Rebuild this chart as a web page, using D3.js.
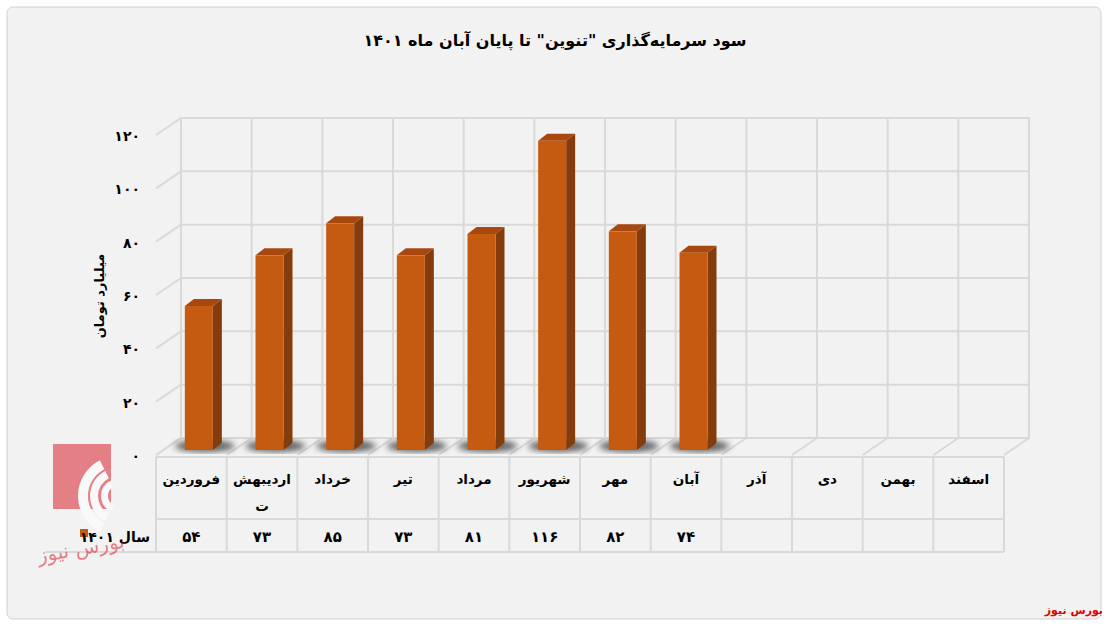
<!DOCTYPE html>
<html><head><meta charset="utf-8">
<script src="https://cdn.jsdelivr.net/npm/d3@7"></script>
<style>body{margin:0;background:#fff;font-family:"DejaVu Sans",sans-serif}</style>
</head><body><svg></svg>
<script>
let months = ["فروردین", "اردیبهشت", "خرداد", "تیر", "مرداد", "شهریور", "مهر", "آبان", "آذر", "دی", "بهمن", "اسفند"];
let monthLines = [["فروردین"], ["اردیبهش", "ت"], ["خرداد"], ["تیر"], ["مرداد"], ["شهریور"], ["مهر"], ["آبان"], ["آذر"], ["دی"], ["بهمن"], ["اسفند"]];
let values = [54, 73, 85, 73, 81, 116, 82, 74];
let valueLabels = ["۵۴", "۷۳", "۸۵", "۷۳", "۸۱", "۱۱۶", "۸۲", "۷۴"];
let yTicks = [0, 20, 40, 60, 80, 100, 120];
let yTickLabels = ["۰", "۲۰", "۴۰", "۶۰", "۸۰", "۱۰۰", "۱۲۰"];
let seriesName = "سال ۱۴۰۱";
let title = "سود سرمایه‌گذاری \"تنوین\" تا پایان آبان ماه ۱۴۰۱";

let width = 1109, height = 627;
let dx = 25, dy = -17;
let svg = d3.select("svg").attr("width", width).attr("height", height);

let x = d3.scaleBand().domain(months).range([156, 1004]).padding(0);
let y = d3.scaleLinear().domain([0, 120]).range([455, 135]);

svg.append("rect").attr("x", 7).attr("y", 7).attr("width", 1094).attr("height", 612)
  .attr("rx", 6).attr("fill", "#f2f2f2").attr("stroke", "#d0d0d0");

svg.append("text").attr("x", 555).attr("y", 46).attr("text-anchor", "middle")
  .attr("font-weight", "bold").attr("font-size", 16).text(title);

let grid = "#d9d9d9";
let g = svg.append("g");
// back wall
g.append("rect").attr("x", 156 + dx).attr("y", y(120) + dy).attr("width", 848).attr("height", 320)
  .attr("fill", "#f2f2f2").attr("stroke", grid).attr("stroke-width", 2);
yTicks.forEach((t) => {
  g.append("line").attr("x1", 156 + dx).attr("x2", 1004 + dx).attr("y1", y(t) + dy).attr("y2", y(t) + dy)
    .attr("stroke", grid).attr("stroke-width", 2);
  g.append("line").attr("x1", 156).attr("x2", 156 + dx).attr("y1", y(t)).attr("y2", y(t) + dy)
    .attr("stroke", grid).attr("stroke-width", 2);
});
months.forEach((m) => {
  g.append("line").attr("x1", x(m) + dx).attr("x2", x(m) + dx).attr("y1", y(120) + dy).attr("y2", y(0) + dy)
    .attr("stroke", grid).attr("stroke-width", 2);
  g.append("line").attr("x1", x(m) + x.bandwidth()).attr("x2", x(m) + x.bandwidth() + dx)
    .attr("y1", y(0)).attr("y2", y(0) + dy).attr("stroke", grid).attr("stroke-width", 2);
});
g.append("line").attr("x1", 156).attr("x2", 156 + dx).attr("y1", y(0)).attr("y2", y(0) + dy).attr("stroke", grid).attr("stroke-width", 2);
g.append("line").attr("x1", 1004 + dx).attr("x2", 1004 + dx).attr("y1", y(120) + dy).attr("y2", y(0) + dy).attr("stroke", grid).attr("stroke-width", 2);

// y labels
svg.append("g").selectAll("text").data(yTicks).enter().append("text")
  .attr("x", 140).attr("y", (d) => y(d) + 6).attr("text-anchor", "end")
  .attr("font-weight", "bold").attr("font-size", 14)
  .text((d, i) => yTickLabels[i]);
svg.append("text").attr("transform", "translate(104,296) rotate(-90)").attr("text-anchor", "middle")
  .attr("font-weight", "bold").attr("font-size", 13).text("میلیارد تومان");

// shadows
let defs = svg.append("defs");
defs.append("filter").attr("id", "blur").append("feGaussianBlur").attr("stdDeviation", 3);
let bw = 28, bd = 9, bdy = -7, off = 0.3;
let bars = svg.append("g");
values.forEach((v, i) => {
  let m = months[i];
  let cx = x(m) + x.bandwidth() / 2 + off * dx;
  let y0 = y(0) - 5;
  let yt = y0 - (y(0) - y(v));
  bars.append("ellipse").attr("cx", cx + 6).attr("cy", y0 - 4).attr("rx", 30).attr("ry", 6)
    .attr("fill", "#333").attr("opacity", 0.75).attr("filter", "url(#blur)");
  let l = cx - bw / 2, r = cx + bw / 2;
  bars.append("polygon").attr("points", `${r},${yt} ${r + bd},${yt + bdy} ${r + bd},${y0 + bdy} ${r},${y0}`).attr("fill", "#843C0C");
  bars.append("polygon").attr("points", `${l},${yt} ${l + bd},${yt + bdy} ${r + bd},${yt + bdy} ${r},${yt}`).attr("fill", "#A8480E");
  bars.append("rect").attr("x", l).attr("y", yt).attr("width", bw).attr("height", y0 - yt).attr("fill", "#C55A11");
});

// data table
let t = svg.append("g");
let r0 = 457, r1 = 519, r2 = 552;
t.append("line").attr("x1", 156).attr("x2", 1004).attr("y1", r1).attr("y2", r1).attr("stroke", grid).attr("stroke-width", 2);
t.append("line").attr("x1", 156).attr("x2", 1004).attr("y1", r0).attr("y2", r0).attr("stroke", grid).attr("stroke-width", 2);
t.append("line").attr("x1", 45).attr("x2", 1004).attr("y1", r2).attr("y2", r2).attr("stroke", grid).attr("stroke-width", 2);
months.concat(["end"]).forEach((m, i) => {
  let xx = i < 12 ? x(m) : 1004;
  t.append("line").attr("x1", xx).attr("x2", xx).attr("y1", r0).attr("y2", r2).attr("stroke", grid).attr("stroke-width", 2);
});
monthLines.forEach((lines, i) => {
  lines.forEach((s, j) => {
    t.append("text").attr("x", x(months[i]) + x.bandwidth() / 2).attr("y", 484 + j * 27)
      .attr("text-anchor", "middle").attr("font-weight", "bold").attr("font-size", 13.5).text(s);
  });
});
valueLabels.forEach((s, i) => {
  t.append("text").attr("x", x(months[i]) + x.bandwidth() / 2).attr("y", 542)
    .attr("text-anchor", "middle").attr("font-weight", "bold").attr("font-size", 15).text(s);
});

// watermark
let wm = svg.append("g").attr("opacity", 0.55);
wm.append("rect").attr("x", 53).attr("y", 444).attr("width", 58).attr("height", 65).attr("fill", "#d9232d");
[[40, 30], [28, 20], [17, 10]].forEach((rr) => {
  wm.append("path").attr("d", d3.arc()({ innerRadius: rr[1], outerRadius: rr[0], startAngle: -Math.PI * 0.85, endAngle: -Math.PI * 0.15 }))
    .attr("transform", `translate(${118},${496})`).attr("fill", "#fff");
});
wm.append("text").attr("x", 82).attr("y", 555).attr("fill", "#d9232d").attr("font-size", 20)
  .attr("text-anchor", "middle").attr("transform", "rotate(-10,82,555)").text("بورس نیوز");

t.append("rect").attr("x", 80).attr("y", 529).attr("width", 8).attr("height", 8).attr("fill", "#C55A11");
t.append("text").attr("x", 150).attr("y", 542).attr("text-anchor", "end")
  .attr("font-weight", "bold").attr("font-size", 14).text(seriesName);

svg.append("text").attr("x", 1103).attr("y", 614).attr("text-anchor", "end").attr("fill", "#e00000")
  .attr("font-weight", "bold").attr("font-size", 11).text("بورس نیوز");
</script></body></html>
